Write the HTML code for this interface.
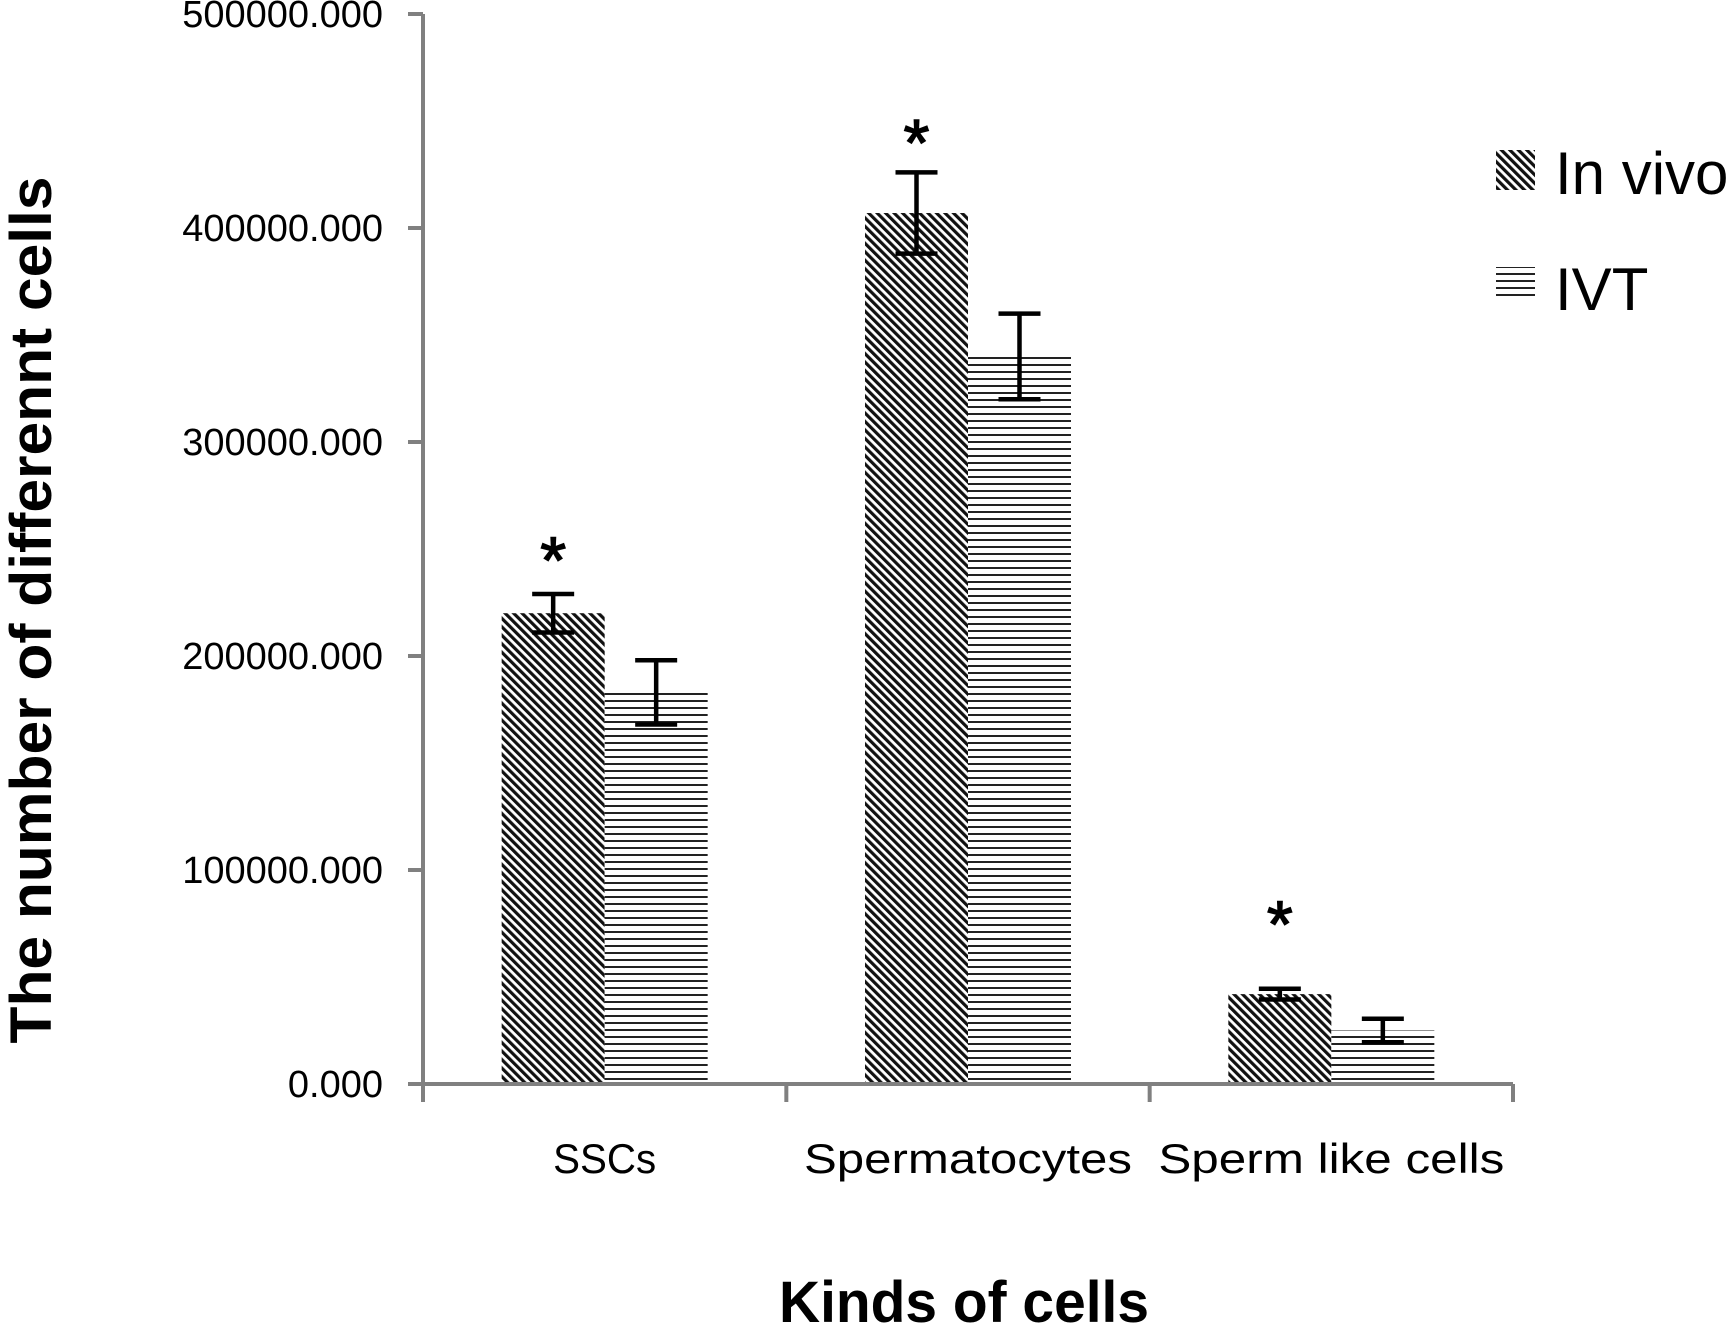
<!DOCTYPE html>
<html><head><meta charset="utf-8"><style>
html,body{margin:0;padding:0;background:#fff;}
svg{display:block;font-family:"Liberation Sans",sans-serif;}
</style></head><body>
<svg id="chart" width="1736" height="1328" viewBox="0 0 1736 1328" xmlns="http://www.w3.org/2000/svg">
<defs>
<pattern id="diag" patternUnits="userSpaceOnUse" width="6" height="6" patternTransform="rotate(-45)">
<rect width="6" height="6" fill="#fff"/><rect x="0" y="0" width="3.2" height="6" fill="#111"/>
</pattern>
<pattern id="horiz" patternUnits="userSpaceOnUse" width="8" height="7">
<rect width="8" height="7" fill="#fff"/><rect x="0" y="0" width="8" height="2" fill="#222"/>
</pattern>
</defs>
<g id="plot"></g>
<g id="legend">
<rect x="1496" y="150" width="39" height="40" fill="url(#diag)"/>
<text x="1555" y="194" font-size="60">In vivo</text>
<rect x="1496" y="267" width="39" height="34" fill="url(#horiz)"/>
<text x="1555" y="310" font-size="60">IVT</text>
</g>
<text x="964" y="1322" font-size="58" font-weight="bold" text-anchor="middle" textLength="370" lengthAdjust="spacingAndGlyphs">Kinds of cells</text>
<text transform="translate(51,610) rotate(-90)" font-size="58" font-weight="bold" text-anchor="middle" textLength="867" lengthAdjust="spacingAndGlyphs">The number of differennt cells</text>
</svg>
<script>
const categories = ["SSCs", "Spermatocytes", "Sperm like cells"];
const inVivo = [220000, 407000, 42000];
const inVivoErr = [9000, 19000, 2500];
const ivt = [183000, 340000, 25000];
const ivtErr = [15000, 20000, 5500];
const starValues = [250000, 445000, 80000];
const yTicks = [0, 100000, 200000, 300000, 400000, 500000];
const yTickLabels = ["0.000", "100000.000", "200000.000", "300000.000", "400000.000", "500000.000"];

const NS = "http://www.w3.org/2000/svg";
const X0 = 423, X1 = 1513, Y0 = 1084, YTOP = 14, YMAX = 500000;
const groupW = (X1 - X0) / categories.length;
const barW = 103;
const catLen = [103, 328, 346];
function y(v){ return Y0 - (v / YMAX) * (Y0 - YTOP); }
function gx(i){ return X0 + groupW * i + groupW / 2; }
const plot = document.getElementById('plot');
function mk(tag, attrs){ const e = document.createElementNS(NS, tag); for (const k in attrs) e.setAttribute(k, attrs[k]); plot.appendChild(e); return e; }

let a = mk('line', {x1:X0, y1:YTOP, x2:X0, y2:Y0, stroke:'#808080', 'stroke-width':4});


yTicks.forEach((t, i) => {
  const tk = mk('line', {x1:X0-15, y1:y(t), x2:X0, y2:y(t), stroke:'#808080', 'stroke-width':4});
  
  
  const lb = mk('text', {x:383, y:y(t)+13, 'font-size':38, 'text-anchor':'end'});
  lb.textContent = yTickLabels[i];
  
  
});
categories.forEach((c, i) => {
  const cx = gx(i);
  const b1 = mk('rect', {x:cx-barW, y:y(inVivo[i]), width:barW, height:Y0-y(inVivo[i]), fill:'url(#diag)'});
  
  
  const b2 = mk('rect', {x:cx, y:y(ivt[i]), width:barW, height:Y0-y(ivt[i]), fill:'url(#horiz)'});
  
  
  [[cx-barW/2, inVivo[i], inVivoErr[i]], [cx+barW/2, ivt[i], ivtErr[i]]].forEach(([ex, v, e]) => {
    const g = document.createElementNS(NS, 'g'); plot.appendChild(g);
    
    
    const p = document.createElementNS(NS, 'path');
    p.setAttribute('d', `M${ex} ${y(v+e)}V${y(v-e)}M${ex-21} ${y(v+e)}H${ex+21}M${ex-21} ${y(v-e)}H${ex+21}`);
    p.setAttribute('stroke', '#000'); p.setAttribute('stroke-width', 4.5); p.setAttribute('fill', 'none');
    g.appendChild(p);
  });
  const st = mk('text', {x:cx-barW/2, y:y(starValues[i])+34, 'font-size':66, 'text-anchor':'middle', stroke:'#000', 'stroke-width':1.5});
  st.textContent = '*';
  
  
  const cl = mk('text', {x:cx, y:1173, 'font-size':42, 'text-anchor':'middle', textLength:catLen[i], lengthAdjust:'spacingAndGlyphs'});
  cl.textContent = c;
  
  
});
a = mk('line', {x1:X0, y1:Y0, x2:X1, y2:Y0, stroke:'#808080', 'stroke-width':4});


for (let i = 0; i <= categories.length; i++) {
  const xx = X0 + groupW * i;
  const tk = mk('line', {x1:xx, y1:Y0, x2:xx, y2:Y0+18, stroke:'#808080', 'stroke-width':4});
  
  
}
</script>
</body></html>
